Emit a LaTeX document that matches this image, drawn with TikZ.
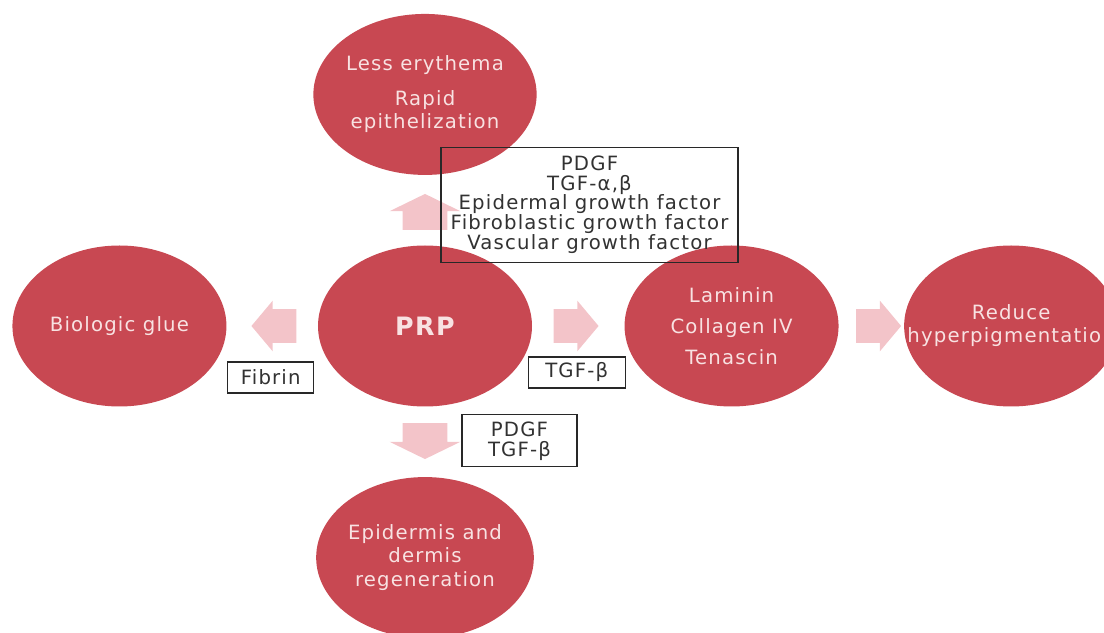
\documentclass[tikz,border=0pt]{standalone}
\usepackage{fontspec}
\setmainfont{DejaVu Sans}[LetterSpace=6.0]
\usepackage{xcolor}
\usepackage{tikz}
\usetikzlibrary{shapes.geometric, shapes.arrows, positioning, calc}
\definecolor{prpred}{RGB}{200,72,82}
\definecolor{arrowpink}{RGB}{243,196,201}
\definecolor{softtext}{RGB}{248,226,226}
\definecolor{boxline}{RGB}{40,40,40}
\definecolor{boxtext}{RGB}{50,50,50}

\begin{document}
\begin{tikzpicture}[outcome/.style={ellipse, fill=prpred, draw=none, text=softtext, minimum width=5.35cm, minimum height=4.025cm, inner sep=0pt, align=center, font=\fontsize{14}{16.4}\selectfont}, hblock/.style={single arrow, fill=arrowpink, draw=none, anchor=tail, minimum height=1.125cm, minimum width=1.25cm, single arrow head extend=0.2125cm, single arrow tip angle=100, inner xsep=0pt, inner ysep=0.4125cm}, vblock/.style={single arrow, fill=arrowpink, draw=none, anchor=tail, minimum height=0.9cm, minimum width=1.75cm, single arrow head extend=0.325cm, single arrow tip angle=128, inner xsep=0pt, inner ysep=0.55cm}, factorbox/.style={rectangle, draw=boxline, line width=0.8pt, text=boxtext, align=center, inner sep=2pt, font=\fontsize{14}{14.2}\selectfont}]

    \useasboundingbox (-10.625,-7.675) rectangle (16.975,8.15);

    %Nodes
    \node[outcome, font=\bfseries\fontsize{18}{20}\selectfont](prp) at (0,0){PRP};
    \node[outcome](healing)[above=1.75cm of prp]{Less erythema\\[8.5pt]Rapid\\epithelization};
    \node[outcome](glue)[left=2.275cm of prp]{Biologic glue};
    \node[outcome](matrix)[right=2.3cm of prp]{Laminin\\[5.6pt]Collagen IV\\[5.6pt]Tenascin};
    \node[outcome](pigment)[right=1.625cm of matrix]{Reduce\\\makebox[0pt]{hyperpigmentation}};
    \node[outcome](regen)[below=1.75cm of prp]{Epidermis and\\dermis\\regeneration};

    %Arrows
    \node[vblock, rotate=90](growth_arrow) at ([yshift=0.375cm]prp.north){};
    \node[hblock, rotate=180](fibrin_arrow) at ([xshift=-0.525cm]prp.west){};
    \node[hblock](tgf_arrow) at ([xshift=0.525cm]prp.east){};
    \node[hblock](pigment_arrow) at ([xshift=0.425cm]matrix.east){};
    \node[vblock, rotate=-90](regen_arrow) at ([yshift=-0.4cm]prp.south){};

    %Labels
    \node[factorbox, minimum width=7.425cm, minimum height=2.875cm](growth) at ([xshift=4.1125cm, yshift=1.0125cm]prp.north){PDGF\\TGF-α,β\\Epidermal growth factor\\Fibroblastic growth factor\\Vascular growth factor};
    \node[factorbox, minimum width=2.15cm, minimum height=0.775cm](fibrin) at ([xshift=-1.175cm, yshift=-1.2875cm]prp.west){Fibrin};
    \node[factorbox, minimum width=2.425cm, minimum height=0.775cm](tgf) at ([xshift=1.1125cm, yshift=-1.1625cm]prp.east){TGF-β};
    \node[factorbox, minimum width=2.875cm, minimum height=1.3cm](pdgf) at ([xshift=2.3625cm, yshift=-0.85cm]prp.south){PDGF\\TGF-β};

\end{tikzpicture}
\end{document}
